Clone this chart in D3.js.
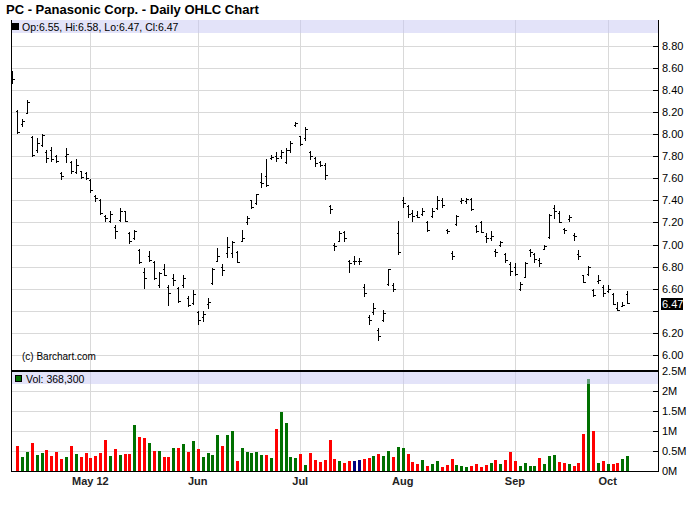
<!DOCTYPE html>
<html><head><meta charset="utf-8">
<script src="https://cdn.jsdelivr.net/npm/d3@7/dist/d3.min.js"></script>
<style>
body{margin:0;background:#fff}
svg text{font-family:"Liberation Sans",Arial,sans-serif}
</style>
</head><body>
<svg id="chart" width="700" height="512"></svg>
<script>
// ---------- DATA ----------
const startDate = "2012-04-09", endDate = "2012-10-05";
const holidays = ["2012-05-28", "2012-07-04", "2012-09-03"];
const monthLabels = ["May 12", "Jun", "Jul", "Aug", "Sep", "Oct"];
const opens = [8.52,8.21,8.09,8.19,7.97,7.86,7.90,7.84,7.86,7.80,7.65,7.80,7.75,7.66,7.67,7.65,7.58,7.44,7.40,7.26,7.21,7.16,7.22,7.30,7.10,
7.06,6.95,6.75,6.90,6.84,6.63,6.78,6.62,6.70,6.61,6.63,6.52,6.47,6.39,6.34,6.46,6.65,6.85,6.80,6.92,6.92,6.93,7.03,7.20,7.40,
7.38,7.57,7.62,7.78,7.80,7.80,7.75,7.86,8.08,7.98,7.96,7.84,7.78,7.75,7.72,7.35,7.00,7.03,7.11,6.85,6.85,6.85,6.62,6.34,6.39,
6.23,6.32,6.64,6.63,7.10,7.40,7.35,7.29,7.27,7.28,7.20,7.26,7.33,7.40,7.13,6.92,7.19,7.39,7.39,7.41,7.17,7.20,7.08,7.06,6.94,
7.00,6.91,6.82,6.80,6.60,6.71,6.95,6.91,6.86,6.96,7.07,7.33,7.29,7.14,7.23,7.09,6.91,6.72,6.73,6.59,6.67,6.62,6.58,6.55,6.43,
6.44,6.55];
const highs = [8.57,8.22,8.14,8.31,7.98,7.96,8.00,7.86,7.88,7.81,7.66,7.87,7.76,7.77,7.67,7.66,7.59,7.45,7.41,7.27,7.30,7.18,7.33,7.30,7.11,
7.13,6.96,6.79,6.94,6.85,6.75,6.82,6.63,6.73,6.62,6.72,6.53,6.59,6.40,6.40,6.52,6.79,6.97,6.82,7.07,7.03,6.94,7.13,7.26,7.40,
7.46,7.65,7.77,7.81,7.84,7.86,7.87,7.94,8.11,7.98,8.06,7.85,7.79,7.76,7.74,7.36,7.01,7.12,7.12,6.86,6.90,6.88,6.64,6.36,6.47,
6.24,6.41,6.78,6.65,7.21,7.43,7.36,7.31,7.30,7.33,7.21,7.33,7.44,7.42,7.14,6.94,7.27,7.42,7.42,7.42,7.18,7.21,7.10,7.12,6.96,
7.03,6.92,6.84,6.83,6.66,6.84,6.96,6.92,6.88,7.00,7.28,7.36,7.30,7.15,7.27,7.10,6.95,6.72,6.81,6.60,6.72,6.63,6.63,6.56,6.48,
6.48,6.58];
const lows = [8.46,8.01,8.07,8.19,7.80,7.84,7.89,7.75,7.76,7.75,7.59,7.75,7.65,7.65,7.60,7.59,7.48,7.39,7.28,7.21,7.20,7.06,7.21,7.21,7.01,
7.05,6.83,6.61,6.85,6.69,6.62,6.72,6.45,6.63,6.48,6.62,6.44,6.46,6.28,6.31,6.43,6.64,6.85,6.72,6.89,6.89,6.84,7.03,7.19,7.33,
7.37,7.52,7.53,7.77,7.76,7.78,7.74,7.84,8.07,7.90,7.95,7.77,7.71,7.71,7.59,7.29,6.95,7.03,7.03,6.75,6.82,6.82,6.53,6.28,6.37,
6.14,6.31,6.63,6.58,6.91,7.34,7.25,7.21,7.25,7.27,7.12,7.25,7.32,7.34,7.10,6.87,7.18,7.38,7.38,7.31,7.11,7.11,7.02,7.04,6.90,
6.99,6.84,6.72,6.72,6.59,6.71,6.90,6.84,6.81,6.96,7.06,7.24,7.20,7.10,7.21,7.04,6.87,6.66,6.72,6.53,6.65,6.53,6.57,6.46,6.41,
6.44,6.47];
const closes = [8.50,8.02,8.12,8.29,7.81,7.92,7.99,7.78,7.77,7.76,7.62,7.82,7.67,7.72,7.61,7.60,7.49,7.42,7.29,7.24,7.28,7.12,7.30,7.21,7.03,
7.12,6.84,6.70,6.86,6.70,6.74,6.72,6.56,6.68,6.49,6.70,6.45,6.55,6.32,6.37,6.48,6.78,6.90,6.77,6.98,7.02,6.84,7.06,7.24,7.34,
7.46,7.56,7.54,7.79,7.78,7.84,7.86,7.92,8.10,7.91,8.05,7.80,7.74,7.72,7.63,7.32,6.99,7.10,7.06,6.83,6.85,6.85,6.56,6.32,6.43,
6.17,6.38,6.78,6.60,6.93,7.38,7.28,7.26,7.25,7.30,7.13,7.30,7.40,7.36,7.12,6.90,7.26,7.40,7.41,7.32,7.12,7.11,7.06,7.08,6.93,
7.02,6.86,6.76,6.73,6.64,6.83,6.93,6.87,6.83,6.99,7.27,7.30,7.20,7.13,7.25,7.08,6.90,6.66,6.80,6.54,6.68,6.56,6.60,6.46,6.41,
6.45,6.47];
// volume in shares (first day not shown)
const volumes = [null,625000,350000,475000,700000,400000,450000,525000,375000,475000,300000,350000,625000,425000,350000,450000,325000,375000,450000,775000,375000,
550000,400000,425000,425000,1150000,850000,825000,700000,500000,500000,350000,350000,575000,575000,675000,475000,750000,550000,350000,450000,
400000,900000,625000,900000,1000000,250000,575000,475000,450000,475000,400000,400000,325000,1050000,1475000,1200000,350000,325000,425000,150000,
450000,275000,225000,275000,775000,300000,250000,200000,250000,250000,275000,300000,325000,375000,425000,375000,500000,350000,600000,575000,
425000,225000,175000,275000,125000,175000,250000,100000,150000,300000,150000,125000,100000,125000,175000,100000,150000,200000,275000,175000,
275000,475000,250000,125000,200000,125000,125000,325000,175000,375000,400000,225000,200000,175000,125000,200000,925000,2300000,1000000,200000,
250000,175000,175000,200000,300000,368300];
// volume direction: U up, D down, N unchanged, - none
const volumeDir = ("-RGGRGGRRRR" + "GRGRRRRRRG" + "RGRRGRRGRG" + "RRGRGRGRGG" + "GGRGGRGGGG" +
  "GRGRGGGGRG" + "RRRRRRGRRN" + "NRRGRGGRGG" + "RRRGRGGRRR" + "GGGRRRRGRG" +
  "RRRGGGGRGG" + "GRRGRRRGRG" + "RGRRGG").split("");
const priceTicks = [6.0,6.2,6.4,6.6,6.8,7.0,7.2,7.4,7.6,7.8,8.0,8.2,8.4,8.6,8.8];
const volTicks = [0, 500000, 1000000, 1500000, 2000000, 2500000];
const volTickLabels = ["0M", "0.5M", "1M", "1.5M", "2M", "2.5M"];
const title = "PC - Panasonic Corp. - Daily OHLC Chart";

// ---------- DATES ----------
const parse = d3.timeParse("%Y-%m-%d"), fmt = d3.timeFormat("%Y-%m-%d");
const dates = d3.timeDay.range(parse(startDate), d3.timeDay.offset(parse(endDate), 1))
  .filter(d => d.getDay() > 0 && d.getDay() < 6 && !holidays.includes(fmt(d)));
const monthStarts = [];
dates.forEach((d, i) => { if (i > 0 && d.getMonth() !== dates[i - 1].getMonth()) monthStarts.push(i); });

// ---------- LAYOUT ----------
const L = 11, R = 658, pTop = 20, pBot = 371, vBot = 471;
const svg = d3.select("#chart");
const x = d3.scaleLinear().domain([0, dates.length - 1]).range([12.3, 627.2]);
const y = d3.scaleLinear().domain([6.0, 8.8]).range([355, 45.7]);
const vy = d3.scaleLinear().domain([0, 2500000]).range([vBot, pBot]);
const px = v => Math.round(v) + 0.5;
const gridColor = "#d9d9d9";

svg.append("rect").attr("width", 700).attr("height", 512).attr("fill", "#fff");

// grids
const g = svg.append("g").attr("shape-rendering", "crispEdges");
g.selectAll(".hg").data(priceTicks).join("line")
  .attr("x1", L).attr("x2", R).attr("y1", d => px(y(d))).attr("y2", d => px(y(d)))
  .attr("stroke", gridColor);
g.selectAll(".vg").data(volTicks.filter(v => v > 0 && v < 2500000)).join("line")
  .attr("x1", L).attr("x2", R).attr("y1", d => px(vy(d))).attr("y2", d => px(vy(d)))
  .attr("stroke", gridColor);
g.selectAll(".mg").data(monthStarts).join("line")
  .attr("x1", d => px(x(d))).attr("x2", d => px(x(d))).attr("y1", pTop).attr("y2", vBot)
  .attr("stroke", gridColor);

// volume bars
const colorOf = { G: "#007000", R: "#ff0000", N: "#000080" };
svg.append("g").attr("shape-rendering", "crispEdges")
  .selectAll("rect").data(volumes.map((v, i) => ({ v, i })).filter(d => d.v != null)).join("rect")
  .attr("x", d => Math.round(x(d.i)) - 1).attr("width", 3)
  .attr("y", d => Math.round(vy(d.v))).attr("height", d => vBot - Math.round(vy(d.v)))
  .attr("fill", d => colorOf[volumeDir[d.i]]);

// OHLC bars
svg.append("g").attr("shape-rendering", "crispEdges")
  .selectAll("path").data(d3.range(dates.length)).join("path")
  .attr("d", i => {
    const cx = Math.round(x(i)) + 0.5;
    const yo = Math.round(y(opens[i])) + 0.5, yc = Math.round(y(closes[i])) + 0.5;
    return `M${cx},${Math.round(y(highs[i]))}V${Math.round(y(lows[i])) + 1}` +
      `M${cx - 2},${yo}H${cx}M${cx},${yc}H${cx + 2}`;
  })
  .attr("stroke", "#000").attr("stroke-width", 1).attr("fill", "none");

// header bands (semi-transparent)
svg.append("rect").attr("x", L).attr("y", pTop).attr("width", R - L).attr("height", 13)
  .attr("fill", "#c8c8f4").attr("fill-opacity", 0.5);
svg.append("rect").attr("x", L).attr("y", pBot + 1).attr("width", R - L).attr("height", 12)
  .attr("fill", "#c8c8f4").attr("fill-opacity", 0.5);

// frame lines
const f = svg.append("g").attr("shape-rendering", "crispEdges").attr("stroke", "#000");
f.append("line").attr("x1", L + 0.5).attr("x2", L + 0.5).attr("y1", pTop).attr("y2", vBot + 1);
f.append("line").attr("x1", R + 0.5).attr("x2", R + 0.5).attr("y1", pTop).attr("y2", vBot + 1);
f.append("line").attr("x1", L).attr("x2", R + 1).attr("y1", pBot).attr("y2", pBot).attr("stroke-width", 2);
f.append("line").attr("x1", L).attr("x2", R + 1).attr("y1", vBot + 0.5).attr("y2", vBot + 0.5);

// right price axis
const lastClose = closes[closes.length - 1];
const pa = svg.append("g");
pa.selectAll("line").data(priceTicks).join("line")
  .attr("shape-rendering", "crispEdges")
  .attr("x1", R - 5).attr("x2", R).attr("y1", d => px(y(d))).attr("y2", d => px(y(d))).attr("stroke", "#000");
pa.selectAll("text").data(priceTicks.filter(t => Math.abs(y(t) - y(lastClose)) > 11)).join("text")
  .attr("x", 662).attr("y", d => y(d) + 4).attr("font-size", 11).attr("fill", "#000")
  .text(d => d3.format(".2f")(d));
pa.append("rect").attr("x", 661).attr("y", Math.round(y(lastClose)) - 5).attr("width", 22).attr("height", 12).attr("fill", "#000");
pa.append("text").attr("x", 662).attr("y", y(lastClose) + 5).attr("font-size", 11).attr("fill", "#fff")
  .text(d3.format(".2f")(lastClose));

// right volume axis
const va = svg.append("g");
va.selectAll("line").data(volTicks).join("line")
  .attr("shape-rendering", "crispEdges")
  .attr("x1", R - 5).attr("x2", R).attr("y1", d => px(vy(d))).attr("y2", d => px(vy(d))).attr("stroke", "#000");
va.selectAll("text").data(volTicks).join("text")
  .attr("x", 662).attr("y", d => vy(d) + 4).attr("font-size", 11).attr("fill", "#000")
  .text((d, i) => volTickLabels[i]);

// month labels
svg.append("g").selectAll("text").data(monthStarts).join("text")
  .attr("x", d => x(d)).attr("y", 485).attr("text-anchor", "middle")
  .attr("font-size", 11).attr("font-weight", "bold").attr("fill", "#222")
  .text((d, i) => monthLabels[i]);

// title & legends
svg.append("text").attr("x", 6).attr("y", 14).attr("font-size", 13).attr("font-weight", "bold").text(title);
svg.append("rect").attr("x", 12).attr("y", 23).attr("width", 7).attr("height", 7).attr("fill", "#000");
const last = opens.length - 1;
const f2 = d3.format(".2f");
svg.append("text").attr("x", 22).attr("y", 31).attr("font-size", 10.5)
  .text(`Op:${f2(opens[last])}, Hi:${f2(highs[last])}, Lo:${f2(lows[last])}, Cl:${f2(closes[last])}`);
svg.append("rect").attr("x", 15.5).attr("y", 375.5).attr("width", 6).attr("height", 6)
  .attr("fill", "#007000").attr("stroke", "#000");
svg.append("text").attr("x", 26).attr("y", 383).attr("font-size", 10.5)
  .text(`Vol: ${d3.format(",")(volumes[last])}`);
svg.append("text").attr("x", 22).attr("y", 360).attr("font-size", 10).text("(c) Barchart.com");
</script>
</body></html>
